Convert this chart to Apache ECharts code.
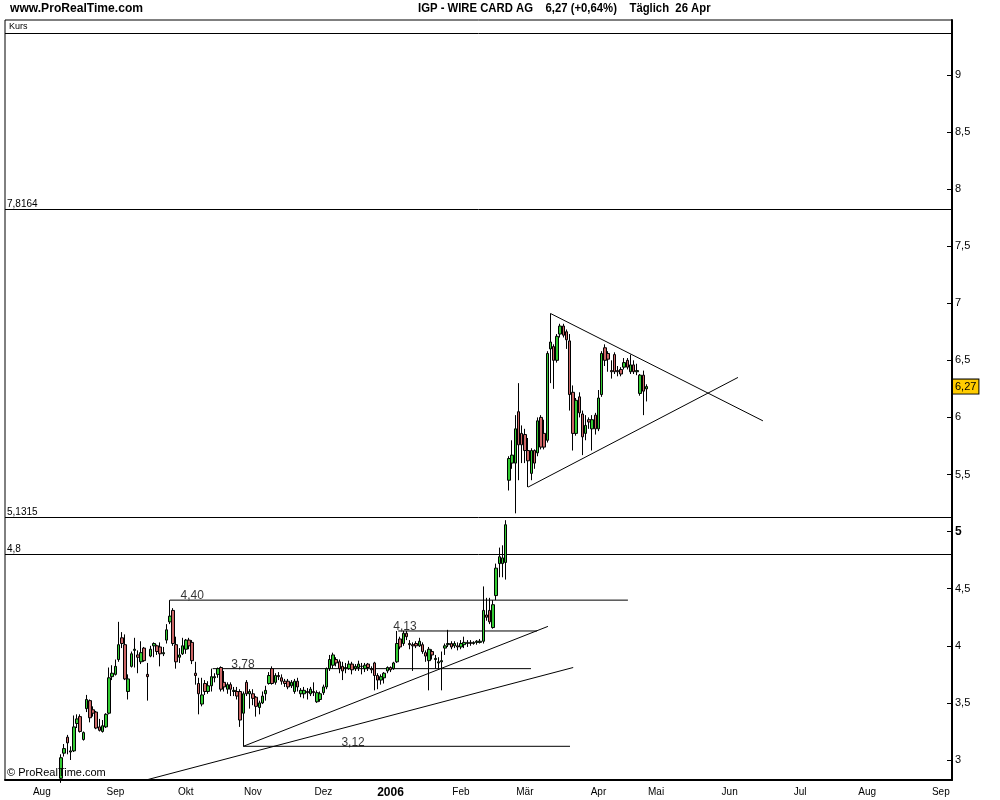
<!DOCTYPE html>
<html>
<head>
<meta charset="utf-8">
<script src="https://cdn.jsdelivr.net/npm/echarts@6/dist/echarts.min.js"></script>
<style>
  html, body { margin: 0; padding: 0; background: #fff; }
  #main { width: 1000px; height: 800px; }
</style>
</head>
<body>
<div id="main"></div>
<script>
// Handelstage (Xetra), Achse laeuft bis Anfang Sep 2006
const firstDay = '2005-07-15'
const lastDay = '2006-09-06'
const holidays = ['2005-12-26', '2006-04-14', '2006-04-17']
const dataStart = '2005-08-09'
const monthNames = ['Jan', 'Feb', 'Mär', 'Apr', 'Mai', 'Jun', 'Jul', 'Aug', 'Sep', 'Okt', 'Nov', 'Dez']

// Kerzen je Monat: [open, close, low, high]
const aug05 = [
  [2.84, 3.02, 2.80, 3.05], [3.06, 3.10, 3.03, 3.14], [3.20, 3.15, 3.05, 3.22], [3.07, 3.08, 3.00, 3.12],
  [3.08, 3.29, 3.07, 3.39], [3.32, 3.36, 3.28, 3.40], [3.38, 3.25, 3.24, 3.40], [3.18, 3.24, 3.17, 3.25],
  [3.45, 3.53, 3.42, 3.57], [3.52, 3.37, 3.33, 3.53], [3.44, 3.41, 3.38, 3.47], [3.42, 3.28, 3.27, 3.43],
  [3.29, 3.26, 3.25, 3.36], [3.25, 3.30, 3.24, 3.35], [3.29, 3.40, 3.28, 3.41], [3.41, 3.72, 3.40, 3.81],
  [3.73, 3.76, 3.70, 3.83]
]
const sep05 = [
  [3.75, 3.82, 3.74, 3.88], [3.88, 4.01, 3.86, 4.21], [4.07, 4.02, 3.98, 4.12], [4.01, 3.71, 3.70, 4.10],
  [3.60, 3.71, 3.53, 3.75], [3.82, 3.93, 3.81, 3.95], [3.96, 3.97, 3.81, 4.07], [3.92, 3.90, 3.76, 3.96],
  [3.86, 3.94, 3.84, 4.04], [3.98, 3.87, 3.86, 3.99], [3.75, 3.73, 3.52, 3.85], [3.91, 3.97, 3.90, 4.00],
  [4.00, 4.02, 3.90, 4.03], [4.00, 3.95, 3.92, 4.01], [3.99, 3.93, 3.82, 4.03], [3.93, 3.94, 3.91, 3.99],
  [4.05, 4.14, 4.02, 4.19], [4.21, 4.26, 4.19, 4.40], [4.31, 4.02, 4.00, 4.33], [4.01, 3.86, 3.80, 4.08],
  [3.90, 3.92, 3.85, 3.98], [3.93, 4.00, 3.92, 4.07]
]
const okt05 = [
  [3.97, 4.05, 3.93, 4.06], [4.05, 4.00, 3.97, 4.07], [4.03, 3.87, 3.84, 4.05], [3.76, 3.74, 3.66, 3.86],
  [3.67, 3.58, 3.40, 3.72], [3.49, 3.57, 3.47, 3.72], [3.67, 3.60, 3.57, 3.70], [3.60, 3.65, 3.58, 3.69],
  [3.65, 3.73, 3.60, 3.80], [3.72, 3.73, 3.68, 3.76], [3.75, 3.80, 3.72, 3.81], [3.81, 3.62, 3.60, 3.82],
  [3.68, 3.64, 3.60, 3.78], [3.62, 3.66, 3.58, 3.68], [3.66, 3.62, 3.56, 3.68], [3.60, 3.61, 3.56, 3.64],
  [3.60, 3.56, 3.53, 3.64], [3.60, 3.35, 3.29, 3.62], [3.41, 3.58, 3.12, 3.60], [3.68, 3.58, 3.56, 3.70],
  [3.58, 3.60, 3.45, 3.62]
]
const nov05 = [
  [3.58, 3.54, 3.48, 3.62], [3.55, 3.47, 3.38, 3.56], [3.46, 3.50, 3.40, 3.52], [3.50, 3.56, 3.49, 3.60],
  [3.58, 3.61, 3.52, 3.65], [3.67, 3.74, 3.66, 3.77], [3.80, 3.67, 3.66, 3.82], [3.68, 3.74, 3.66, 3.76],
  [3.74, 3.73, 3.70, 3.77], [3.72, 3.69, 3.66, 3.75], [3.69, 3.67, 3.64, 3.71], [3.69, 3.64, 3.62, 3.71],
  [3.65, 3.68, 3.63, 3.70], [3.60, 3.69, 3.58, 3.71], [3.69, 3.64, 3.60, 3.72], [3.58, 3.61, 3.55, 3.63],
  [3.58, 3.61, 3.54, 3.64], [3.60, 3.59, 3.53, 3.63], [3.58, 3.62, 3.56, 3.64], [3.60, 3.59, 3.56, 3.68],
  [3.51, 3.59, 3.50, 3.61], [3.53, 3.58, 3.51, 3.60]
]
const dez05 = [
  [3.59, 3.64, 3.57, 3.66], [3.64, 3.80, 3.62, 3.81], [3.80, 3.88, 3.78, 3.92], [3.83, 3.92, 3.80, 3.94],
  [3.88, 3.85, 3.82, 3.90], [3.86, 3.80, 3.76, 3.88], [3.82, 3.78, 3.70, 3.86], [3.80, 3.81, 3.76, 3.85],
  [3.80, 3.84, 3.79, 3.87], [3.84, 3.79, 3.75, 3.86], [3.80, 3.82, 3.78, 3.84], [3.81, 3.84, 3.78, 3.87],
  [3.82, 3.82, 3.75, 3.85], [3.80, 3.83, 3.77, 3.85], [3.84, 3.81, 3.78, 3.85], [3.80, 3.79, 3.76, 3.82],
  [3.85, 3.74, 3.61, 3.86], [3.74, 3.70, 3.62, 3.76], [3.70, 3.73, 3.66, 3.75], [3.72, 3.76, 3.67, 3.77],
  [3.78, 3.81, 3.76, 3.82]
]
const jan06 = [
  [3.81, 3.79, 3.77, 3.82], [3.80, 3.85, 3.79, 3.86], [3.86, 4.02, 3.85, 4.13], [4.06, 3.99, 3.97, 4.08],
  [4.02, 4.11, 4.00, 4.13], [4.11, 4.08, 4.05, 4.13], [4.02, 4.01, 3.97, 4.05], [4.01, 4.00, 3.78, 4.03],
  [4.02, 4.00, 3.98, 4.04], [4.00, 4.04, 3.99, 4.07], [4.01, 3.95, 3.93, 4.03], [3.94, 3.91, 3.86, 3.96],
  [3.87, 3.97, 3.61, 3.99], [3.95, 3.92, 3.88, 3.97], [3.88, 3.89, 3.80, 3.92], [3.85, 3.86, 3.80, 3.90],
  [3.86, 3.87, 3.61, 3.95], [3.98, 4.00, 3.92, 4.02], [4.01, 4.02, 3.99, 4.14], [4.02, 3.99, 3.97, 4.04],
  [4.00, 4.02, 3.98, 4.04], [4.00, 3.99, 3.96, 4.03]
]
const feb06 = [
  [3.99, 4.02, 3.97, 4.05], [4.01, 4.03, 3.98, 4.08], [4.02, 4.03, 3.99, 4.05], [4.03, 4.02, 4.00, 4.05],
  [4.02, 4.03, 4.01, 4.04], [4.03, 4.04, 4.01, 4.05], [4.03, 4.04, 4.02, 4.06], [4.04, 4.31, 4.02, 4.52],
  [4.27, 4.25, 4.22, 4.42], [4.31, 4.21, 4.19, 4.42], [4.16, 4.36, 4.15, 4.40], [4.44, 4.68, 4.40, 4.72],
  [4.72, 4.78, 4.60, 4.86], [4.72, 4.77, 4.60, 4.88], [4.73, 5.06, 4.58, 5.10], [5.45, 5.64, 5.36, 5.66],
  [5.60, 5.67, 5.55, 5.80], [5.60, 5.90, 5.16, 6.02], [6.05, 5.76, 5.45, 6.30], [5.86, 5.76, 5.60, 5.93]
]
const mar06 = [
  [5.85, 5.71, 5.60, 5.90], [5.71, 5.62, 5.39, 5.82], [5.51, 5.71, 5.45, 5.73], [5.71, 5.60, 5.55, 5.72],
  [5.69, 5.97, 5.66, 6.00], [6.00, 5.74, 5.72, 6.02], [5.86, 5.74, 5.72, 5.98], [5.80, 6.56, 5.78, 6.58],
  [6.60, 6.66, 6.30, 6.91], [6.62, 6.50, 6.25, 6.64], [6.50, 6.71, 6.48, 6.73], [6.73, 6.80, 6.70, 6.82],
  [6.80, 6.72, 6.70, 6.82], [6.75, 6.68, 6.60, 6.77], [6.67, 6.20, 6.06, 6.73], [6.22, 5.86, 5.71, 6.28],
  [5.86, 6.15, 5.84, 6.17], [6.18, 6.04, 6.00, 6.22], [6.03, 5.83, 5.67, 6.06], [5.86, 5.93, 5.80, 6.02],
  [5.98, 5.96, 5.90, 6.00], [5.90, 5.98, 5.71, 6.02], [6.02, 5.90, 5.85, 6.04]
]
const apr06 = [
  [5.90, 6.17, 5.88, 6.24], [6.20, 6.56, 6.18, 6.58], [6.61, 6.50, 6.45, 6.64], [6.56, 6.51, 6.40, 6.58],
  [6.41, 6.40, 6.34, 6.50], [6.55, 6.40, 6.38, 6.57], [6.41, 6.40, 6.36, 6.45], [6.42, 6.38, 6.36, 6.44],
  [6.44, 6.48, 6.42, 6.52], [6.50, 6.44, 6.42, 6.52], [6.40, 6.46, 6.38, 6.55], [6.46, 6.40, 6.38, 6.50],
  [6.40, 6.41, 6.37, 6.47], [6.21, 6.37, 6.19, 6.38], [6.37, 6.23, 6.02, 6.41], [6.25, 6.27, 6.14, 6.29]
]

// Gezeichnete Linien, Punkte als [Handelstag-Index, Kurs]
const drawings = [
  [[170, 6.91], [236.4, 5.97]],
  [[163, 5.39], [228.6, 6.35]],
  [[74, 3.12], [169.2, 4.17]],
  [[43.6, 2.825], [177.1, 3.81]],
  [[51, 4.40], [194.2, 4.40]],
  [[64.4, 3.80], [163.9, 3.80]],
  [[122.4, 4.13], [165.8, 4.13]],
  [[74, 3.12], [176.1, 3.12]]
]
const drawingLabels = [[58, 4.40, '4,40'], [73.9, 3.80, '3,78'], [124.5, 4.13, '4,13'], [108.3, 3.12, '3,12']]
const levels = [7.8164, 5.1315, 4.8]
const levelLabels = ['7,8164', '5,1315', '4,8']
const lastPrice = 6.27
const yTicks = [3, 3.5, 4, 4.5, 5, 5.5, 6, 6.5, 7, 7.5, 8, 8.5, 9]

function tradingDays() {
  const out = []
  const d = new Date(firstDay + 'T00:00:00Z')
  const end = new Date(lastDay + 'T00:00:00Z')
  while (d <= end) {
    const wd = d.getUTCDay()
    const s = d.toISOString().slice(0, 10)
    if (wd !== 0 && wd !== 6 && holidays.indexOf(s) < 0) out.push(s)
    d.setUTCDate(d.getUTCDate() + 1)
  }
  return out
}

const days = tradingDays()
const startIdx = days.indexOf(dataStart)
const candles = [].concat(aug05, sep05, okt05, nov05, dez05, jan06, feb06, mar06, apr06)
const candleData = candles.map((c, k) => [days[startIdx + k]].concat(c))

const isMonthStart = (i) => i > 0 && days[i].slice(5, 7) !== days[i - 1].slice(5, 7)
const comma = (v) => String(v).replace('.', ',')

const font = 'Liberation Sans, Arial, sans-serif'

const myChart = echarts.init(document.getElementById('main'))

const lineSeries = drawings.map(pts => ({
  type: 'line',
  xAxisIndex: 1,
  yAxisIndex: 0,
  data: pts,
  symbol: 'none',
  silent: true,
  clip: true,
  z: 4,
  lineStyle: { color: '#000', width: 1 }
}))

const option = {
  animation: false,
  backgroundColor: '#fff',
  grid: {
    left: 5, right: 48, top: 20, bottom: 20,
    show: true, borderColor: '#000', borderWidth: 1, backgroundColor: '#fff'
  },
  xAxis: [
    {
      type: 'category',
      data: days,
      boundaryGap: true,
      axisLine: { lineStyle: { color: '#000', width: 2 } },
      axisTick: { interval: isMonthStart, alignWithLabel: true, length: 4, lineStyle: { color: '#000' } },
      axisLabel: {
        interval: isMonthStart,
        margin: 7,
        fontFamily: font,
        fontSize: 10,
        color: '#000',
        formatter: (v) => {
          const m = +v.slice(5, 7)
          return m === 1 ? '{y|' + v.slice(0, 4) + '}' : monthNames[m - 1]
        },
        rich: { y: { fontFamily: font, fontWeight: 'bold', fontSize: 12, color: '#000' } }
      },
      splitLine: { show: false }
    },
    {
      type: 'value',
      min: -0.5,
      max: days.length - 0.5,
      show: false
    }
  ],
  yAxis: {
    type: 'value',
    position: 'right',
    min: 2.825,
    max: 9.48,
    axisLine: { show: true, onZero: false, lineStyle: { color: '#000', width: 2 } },
    axisTick: { show: true, inside: true, length: 5, customValues: yTicks, lineStyle: { color: '#000' } },
    axisLabel: {
      customValues: yTicks,
      margin: 3,
      fontFamily: font,
      fontSize: 11,
      color: '#000',
      formatter: (v) => v === 5 ? '{b|5}' : comma(v),
      rich: { b: { fontWeight: 'bold', fontSize: 12, fontFamily: font, color: '#000' } }
    },
    splitLine: { show: false }
  },
  graphic: [
    { type: 'text', x: 10, y: 2, scaleX: 0.93, style: { text: 'www.ProRealTime.com', font: 'bold 13px ' + font, fill: '#000' } },
    { type: 'text', x: 418, y: 2, scaleX: 0.87, style: { text: 'IGP - WIRE CARD AG    6,27 (+0,64%)    Täglich  26 Apr', font: 'bold 13px ' + font, fill: '#000' } },
    { type: 'line', shape: { x1: 5, y1: 33.5, x2: 952, y2: 33.5 }, style: { stroke: '#000', lineWidth: 1 }, z: 10 },
    { type: 'text', x: 9, y: 22, style: { text: 'Kurs', font: '9px ' + font, fill: '#000' }, z: 10 },
    { type: 'text', x: 7, y: 767, style: { text: '© ProRealTime.com', font: '11px ' + font, fill: '#000' }, z: 10 }
  ],
  series: [
    {
      type: 'candlestick',
      data: candleData,
      encode: { x: 0, y: [1, 2, 3, 4] },
      barWidth: 3,
      z: 5,
      itemStyle: {
        color: '#33cc33',
        color0: '#cc6666',
        borderColor: '#000',
        borderColor0: '#000',
        borderWidth: 1
      },
      markLine: {
        silent: true,
        symbol: ['none', 'none'],
        animation: false,
        data: levels.map((v, k) => ({
          yAxis: v,
          lineStyle: { color: '#000', width: 1, type: 'solid' },
          label: {
            show: true, position: 'insideStartTop', distance: [2, 0],
            formatter: levelLabels[k], fontFamily: font, fontSize: 10, color: '#000'
          }
        })).concat([{
          yAxis: lastPrice,
          lineStyle: { color: 'rgba(0,0,0,0)', width: 1 },
          label: {
            show: true, position: 'end', distance: 1,
            formatter: comma(lastPrice), fontFamily: font, fontSize: 11, color: '#000',
            backgroundColor: '#ffcc00', borderColor: '#000', borderWidth: 1, padding: [2, 2, 1, 2]
          }
        }])
      }
    }
  ].concat(lineSeries, [{
    type: 'scatter',
    xAxisIndex: 1,
    yAxisIndex: 0,
    data: drawingLabels,
    symbolSize: 0,
    silent: true,
    z: 6,
    label: {
      show: true, position: 'top', distance: 1, offset: [0, 3],
      formatter: (p) => p.data[2],
      fontFamily: font, fontSize: 12, color: '#000'
    }
  }])
}

myChart.setOption(option)
</script>
</body>
</html>
